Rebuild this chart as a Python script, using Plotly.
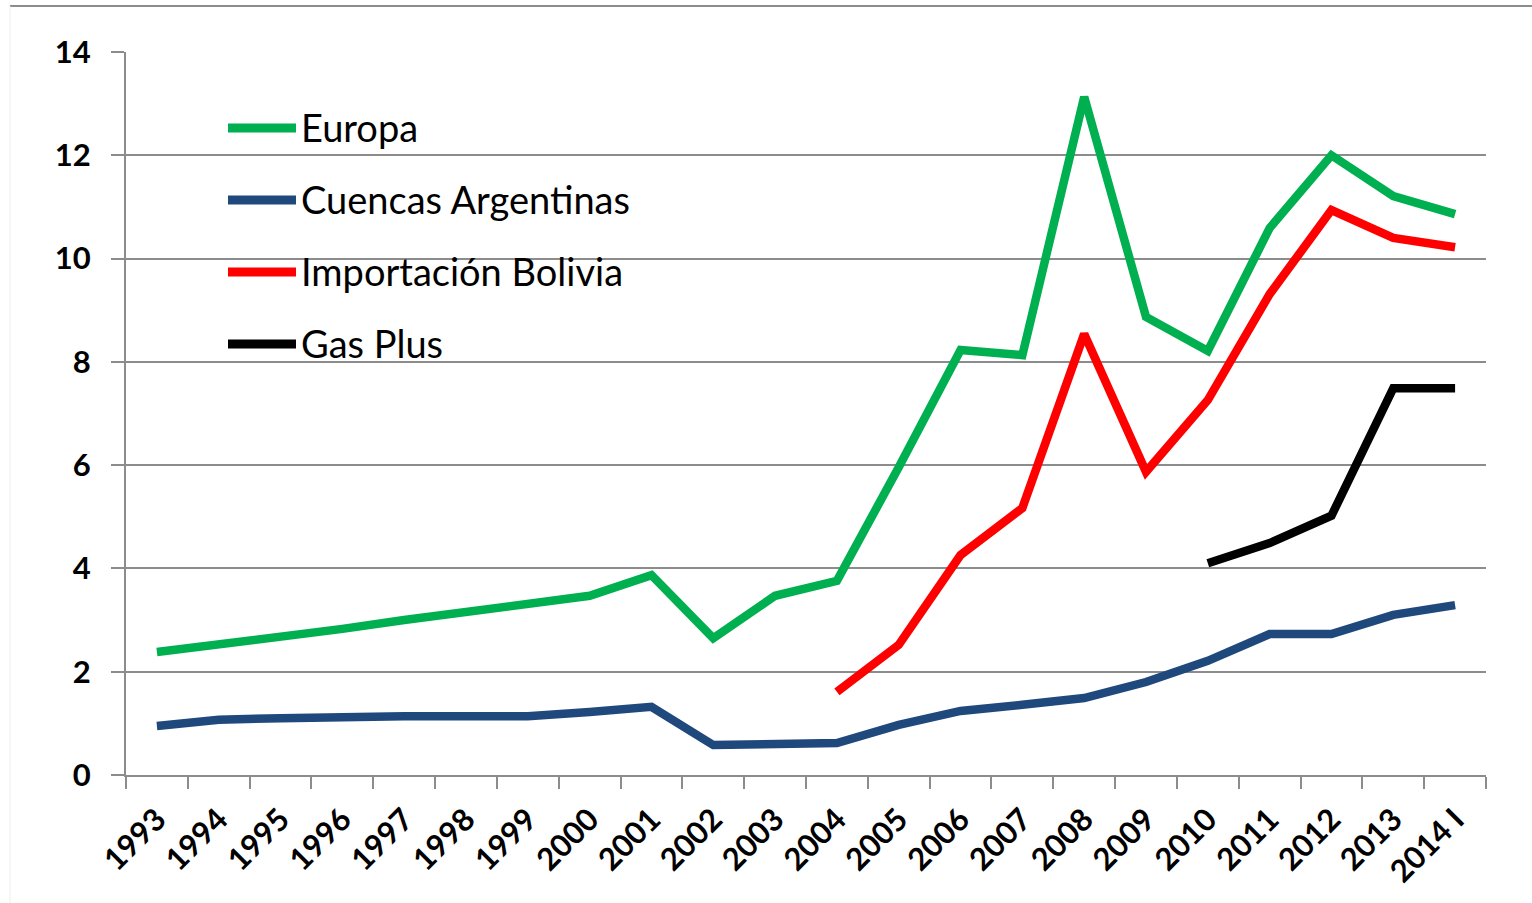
import plotly.graph_objects as go

categories = ["1993", "1994", "1995", "1996", "1997", "1998", "1999", "2000", "2001", "2002",
              "2003", "2004", "2005", "2006", "2007", "2008", "2009", "2010", "2011", "2012",
              "2013", "2014 I"]

europa = [2.38, 2.52, 2.65, 2.83, 3.0, 3.16, 3.31, 3.47, 3.87, 2.65, 3.47, 3.76, 5.96,
          8.23, 8.13, 13.13, 8.87, 8.21, 10.59, 12.0, 11.21, 10.86]
cuencas = [0.95, 1.07, 1.1, 1.14, 1.14, 1.14, 1.14, 1.22, 1.32, 0.58, 0.62, 0.62, 0.97,
           1.24, 1.36, 1.49, 1.8, 2.21, 2.73, 2.73, 3.1, 3.29]
bolivia = [None] * 11 + [1.61, 2.52, 4.26, 5.17, 8.54, 5.87, 7.26, 9.31, 10.94, 10.4, 10.22]
gasplus = [None] * 17 + [4.1, 4.49, 5.02, 7.49, 7.49]

series_names = ["Europa", "Cuencas Argentinas", "Importación Bolivia", "Gas Plus"]
series_values = [europa, cuencas, bolivia, gasplus]
colors = ["#00B050", "#1F497D", "#FF0000", "#000000"]

y_ticks = [0, 2, 4, 6, 8, 10, 12, 14]

FONT = "Lato, Carlito, sans-serif"

fig = go.Figure()
for name, vals, col in zip(series_names, series_values, colors):
    fig.add_trace(go.Scatter(x=categories, y=vals, name=name, mode="lines",
                             line=dict(color=col, width=8.5), connectgaps=False,
                             showlegend=False))

W, H = 1532, 903
L, R, T, B = 126, 46, 52, 128
pw, ph = W - L - R, H - T - B

def px_x(x):
    return (x - L) / pw

def px_y(y):
    return (H - B - y) / ph

shapes = []
annotations = []
legend_rows = [128, 200, 272, 344]
for name, col, yy in zip(series_names, colors, legend_rows):
    shapes.append(dict(type="line", xref="paper", yref="paper",
                       x0=px_x(228), x1=px_x(296), y0=px_y(yy), y1=px_y(yy),
                       line=dict(color=col, width=9)))
    annotations.append(dict(xref="paper", yref="paper", x=px_x(299), y=px_y(yy - 1),
                            text=name, showarrow=False, xanchor="left", yanchor="middle",
                            font=dict(family=FONT, size=38, color="#000000")))

# outer chart border (top and left)
shapes.append(dict(type="line", xref="paper", yref="paper",
                   x0=px_x(10), x1=px_x(1532), y0=px_y(6), y1=px_y(6),
                   line=dict(color="#8c8c8c", width=2)))
shapes.append(dict(type="line", xref="paper", yref="paper",
                   x0=px_x(10), x1=px_x(10), y0=px_y(6), y1=px_y(903),
                   line=dict(color="#eeeeee", width=1)))

fig.update_layout(
    width=W, height=H,
    margin=dict(l=L, r=R, t=T, b=B),
    paper_bgcolor="white", plot_bgcolor="white",
    shapes=shapes, annotations=annotations,
    font=dict(family=FONT, color="#000000"),
    xaxis=dict(type="category", categoryorder="array", categoryarray=categories,
               range=[-0.5, len(categories) - 0.5],
               tickson="boundaries", ticks="outside", ticklen=12, tickwidth=2,
               tickcolor="#8c8c8c", showline=True, linecolor="#8c8c8c", linewidth=2,
               showgrid=False, tickangle=-45, ticklabelstandoff=12,
               tickfont=dict(family=FONT, size=31, color="#000000", weight="bold")),
    yaxis=dict(range=[0, 14], tickvals=y_ticks, ticktext=[str(v) for v in y_ticks],
               ticks="outside", ticklen=13, tickwidth=2, tickcolor="#8c8c8c",
               showline=True, linecolor="#8c8c8c", linewidth=2,
               showgrid=True, gridcolor="#8c8c8c", gridwidth=2, zeroline=False,
               ticklabelstandoff=14,
               tickfont=dict(family=FONT, size=31, color="#000000", weight="bold")),
)

fig.write_html("out.html", config={"displayModeBar": False},
               post_script="document.body.style.margin='0';document.body.style.overflow='hidden';")
